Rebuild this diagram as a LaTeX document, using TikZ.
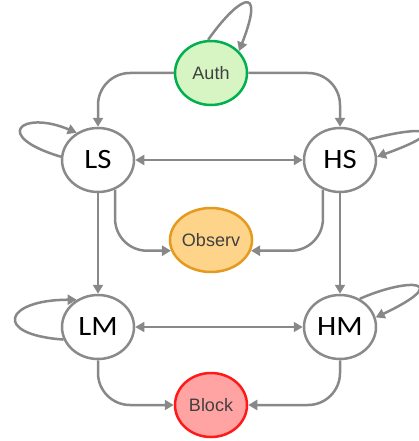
\documentclass[tikz,border=0pt]{standalone}
\usepackage{fontspec}
\setmainfont{Liberation Sans}
\newfontfamily\statefont{Carlito}
\usetikzlibrary{shapes.geometric,arrows.meta}

\definecolor{edgegray}{HTML}{888888}
\definecolor{ringgray}{HTML}{8A8A8A}
\definecolor{authfill}{HTML}{D6F5C3}
\definecolor{authring}{HTML}{00B050}
\definecolor{obsfill}{HTML}{FDD48A}
\definecolor{obsring}{HTML}{E59A1F}
\definecolor{blockfill}{HTML}{FFA3A3}
\definecolor{blockring}{HTML}{FF1A1A}
\definecolor{labelgray}{HTML}{404040}

\tikzset{
  statebox/.style={ellipse, draw=ringgray, fill=white, line width=2.5pt,
    minimum width=72pt, minimum height=64pt, inner sep=0pt,
    font=\statefont\fontsize{28}{31}\selectfont, text=black},
  phasebox/.style={ellipse, line width=2.5pt,
    minimum width=72pt, minimum height=64pt, inner sep=0pt,
    font=\fontsize{18}{21}\selectfont, text=labelgray},
  edge/.style={draw=edgegray, line width=2.5pt,
    -{Triangle[length=9pt,width=10pt]}, rounded corners=32pt},
  twoway/.style={draw=edgegray, line width=2.5pt,
    {Triangle[length=9pt,width=10pt]}-{Triangle[length=9pt,width=10pt]}},
  thinway/.style={draw=edgegray, line width=1.5pt,
    {Triangle[length=9pt,width=10pt]}-{Triangle[length=9pt,width=10pt]}},
}

\begin{document}
\begin{tikzpicture}[x=1pt, y=-1pt]
  \clip (0,0) rectangle (419,441);

  % states
  \node[phasebox, draw=authring, fill=authfill] (auth) at (211,73) {Auth};
  \node[statebox] (ls) at (98,160) {\scalebox{1.1}[1]{LS}};
  \node[statebox] (hs) at (340,160) {\scalebox{1.1}[1]{HS}};
  \node[phasebox, draw=obsring, fill=obsfill] (obs) at (211,240) {Observ};
  \node[statebox] (lm) at (98,327) {\scalebox{1.1}[1]{LM}};
  \node[statebox] (hm) at (340,327) {\scalebox{1.1}[1]{HM}};
  \node[phasebox, draw=blockring, fill=blockfill] (block) at (211,405) {Block};

  % transitions out of Auth
  \draw[edge] (auth.west) -| (ls.north);
  \draw[edge] (auth.east) -| (hs.north);

  % switching between the two sides
  \draw[twoway] (ls.east) -- (hs.west);
  \draw[thinway] (lm.east) -- (hm.west);

  % going down
  \draw[edge] (ls.south) -- (lm.north);
  \draw[edge] (hs.south) -- (hm.north);
  \draw[edge] (ls.-60) |- (obs.195);
  \draw[edge] (hs.240) |- (obs.-15);
  \draw[edge] (lm.south) |- (block.west);
  \draw[edge] (hm.south) |- (block.east);

  % self loops
  \draw[edge] (auth.95) .. controls +(28,-40) and +(28,-72) .. (auth.38);
  \draw[edge] (ls.175) .. controls +(-70,-21) and +(-55,-23) .. (ls.128);
  \draw[edge] (hs.35) .. controls +(55,-15) and +(75,-27) .. (hs.5);
  \draw[edge] (lm.200) .. controls +(-72,-5) and +(-72,0) .. (lm.128);
  \draw[edge] (hm.55) .. controls +(50,-22) and +(78,-37) .. (hm.15);
\end{tikzpicture}
\end{document}
